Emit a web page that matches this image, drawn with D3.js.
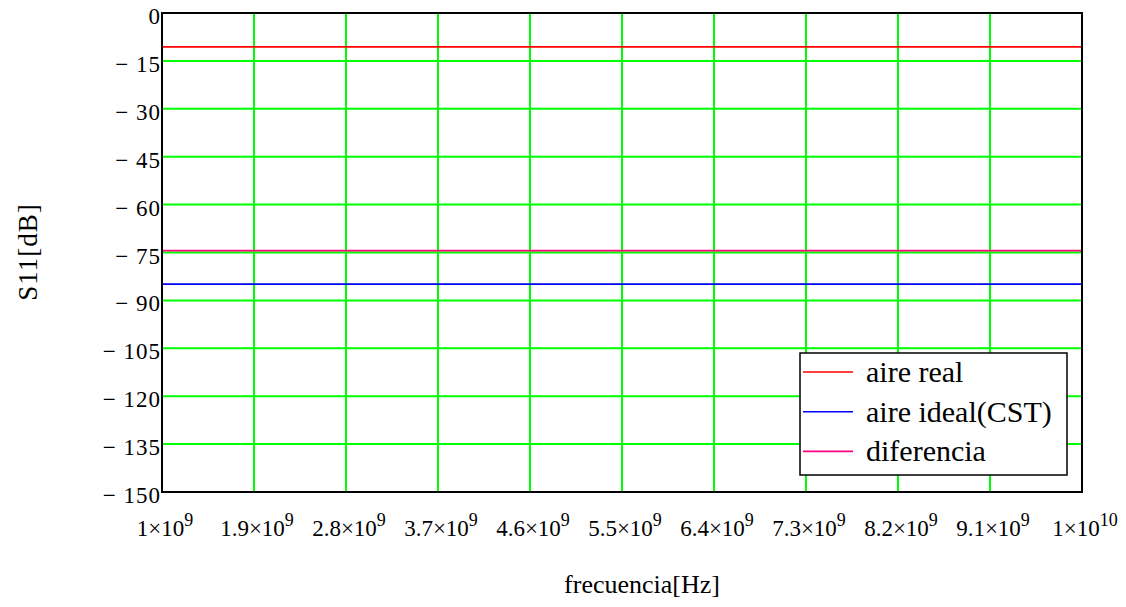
<!DOCTYPE html>
<html><head><meta charset="utf-8">
<script src="https://cdn.jsdelivr.net/npm/d3@7"></script>
<style>
html,body{margin:0;padding:0;background:#fff;}
svg{display:block;font-family:"Liberation Serif","Times New Roman",serif;}
</style></head>
<body><svg id="c" width="1126" height="607"></svg>
<script>
// ---- data ----
const freqs = [1e9, 1.9e9, 2.8e9, 3.7e9, 4.6e9, 5.5e9, 6.4e9, 7.3e9, 8.2e9, 9.1e9, 1e10];
const aireReal = [-10.6, -10.6, -10.6, -10.6, -10.6, -10.6, -10.6, -10.6, -10.6, -10.6, -10.6];
const aireIdeal = [-84.9, -84.9, -84.9, -84.9, -84.9, -84.9, -84.9, -84.9, -84.9, -84.9, -84.9];
const diferencia = [-74.4, -74.4, -74.4, -74.4, -74.4, -74.4, -74.4, -74.4, -74.4, -74.4, -74.4];
const xTicks = [1e9, 1.9e9, 2.8e9, 3.7e9, 4.6e9, 5.5e9, 6.4e9, 7.3e9, 8.2e9, 9.1e9, 1e10];
const xTickMant = ["1", "1.9", "2.8", "3.7", "4.6", "5.5", "6.4", "7.3", "8.2", "9.1", "1"];
const xTickExp = ["9", "9", "9", "9", "9", "9", "9", "9", "9", "9", "10"];
const yTicks = [0, -15, -30, -45, -60, -75, -90, -105, -120, -135, -150];
const seriesNames = ["aire real", "aire ideal(CST)", "diferencia"];
const seriesColors = ["#ff0000", "#0000ff", "#ff0080"];

const series = [aireReal, aireIdeal, diferencia];

const svg = d3.select("#c");
const L = 162, R = 1082, T = 13, B = 492;
const x = d3.scaleLinear().domain([1e9, 1e10]).range([L, R]);
const y = d3.scaleLinear().domain([-150, 0]).range([B, T]);

// grid
const g = svg.append("g");
g.selectAll("line.vx").data(xTicks).enter().append("line")
  .attr("x1", d => x(d)).attr("x2", d => x(d)).attr("y1", T).attr("y2", B)
  .attr("stroke", "#00ff00").attr("stroke-width", 2);
g.selectAll("line.hy").data(yTicks).enter().append("line")
  .attr("y1", d => y(d)).attr("y2", d => y(d)).attr("x1", L).attr("x2", R)
  .attr("stroke", "#00ff00").attr("stroke-width", 2);

// series lines
const line = d3.line().x((d, i) => x(freqs[i])).y(d => y(d));
series.forEach((s, k) => {
  svg.append("path").datum(s).attr("d", line)
    .attr("fill", "none").attr("stroke", seriesColors[k]).attr("stroke-width", 1.6);
});

// frame
svg.append("rect").attr("x", L).attr("y", T).attr("width", R - L).attr("height", B - T)
  .attr("fill", "none").attr("stroke", "#000").attr("stroke-width", 2);

// y tick labels
svg.selectAll("text.yt").data(yTicks).enter().append("text")
  .attr("x", L - 1).attr("y", d => y(d) + 11)
  .attr("text-anchor", "end").attr("font-size", 23)
  .attr("letter-spacing", 1)
  .text(d => d === 0 ? "0" : "\u2212 " + Math.abs(d));

// x tick labels
xTicks.forEach((v, i) => {
  const t = svg.append("text").attr("x", x(v) + 3).attr("y", 536)
    .attr("text-anchor", "middle").attr("font-size", 23);
  t.append("tspan").text(xTickMant[i] + "\u00d710");
  t.append("tspan").attr("dy", -10).attr("font-size", 18).text(xTickExp[i]);
});

// axis titles
svg.append("text").attr("x", 642).attr("y", 593).attr("text-anchor", "middle")
  .attr("font-size", 26).text("frecuencia[Hz]");
svg.append("text").attr("transform", "translate(37,252) rotate(-90)")
  .attr("text-anchor", "middle").attr("font-size", 27).attr("letter-spacing", 1)
  .text("S11[dB]");

// legend
const lg = svg.append("g");
lg.append("rect").attr("x", 800).attr("y", 353).attr("width", 267).attr("height", 122)
  .attr("fill", "#fff").attr("stroke", "#000").attr("stroke-width", 1.5);
seriesNames.forEach((n, i) => {
  const yy = 372 + i * 39.7;
  lg.append("line").attr("x1", 803).attr("x2", 853).attr("y1", yy).attr("y2", yy)
    .attr("stroke", seriesColors[i]).attr("stroke-width", 1.6);
  lg.append("text").attr("x", 866).attr("y", yy + 10).attr("font-size", 30).text(n);
});
</script></body></html>
